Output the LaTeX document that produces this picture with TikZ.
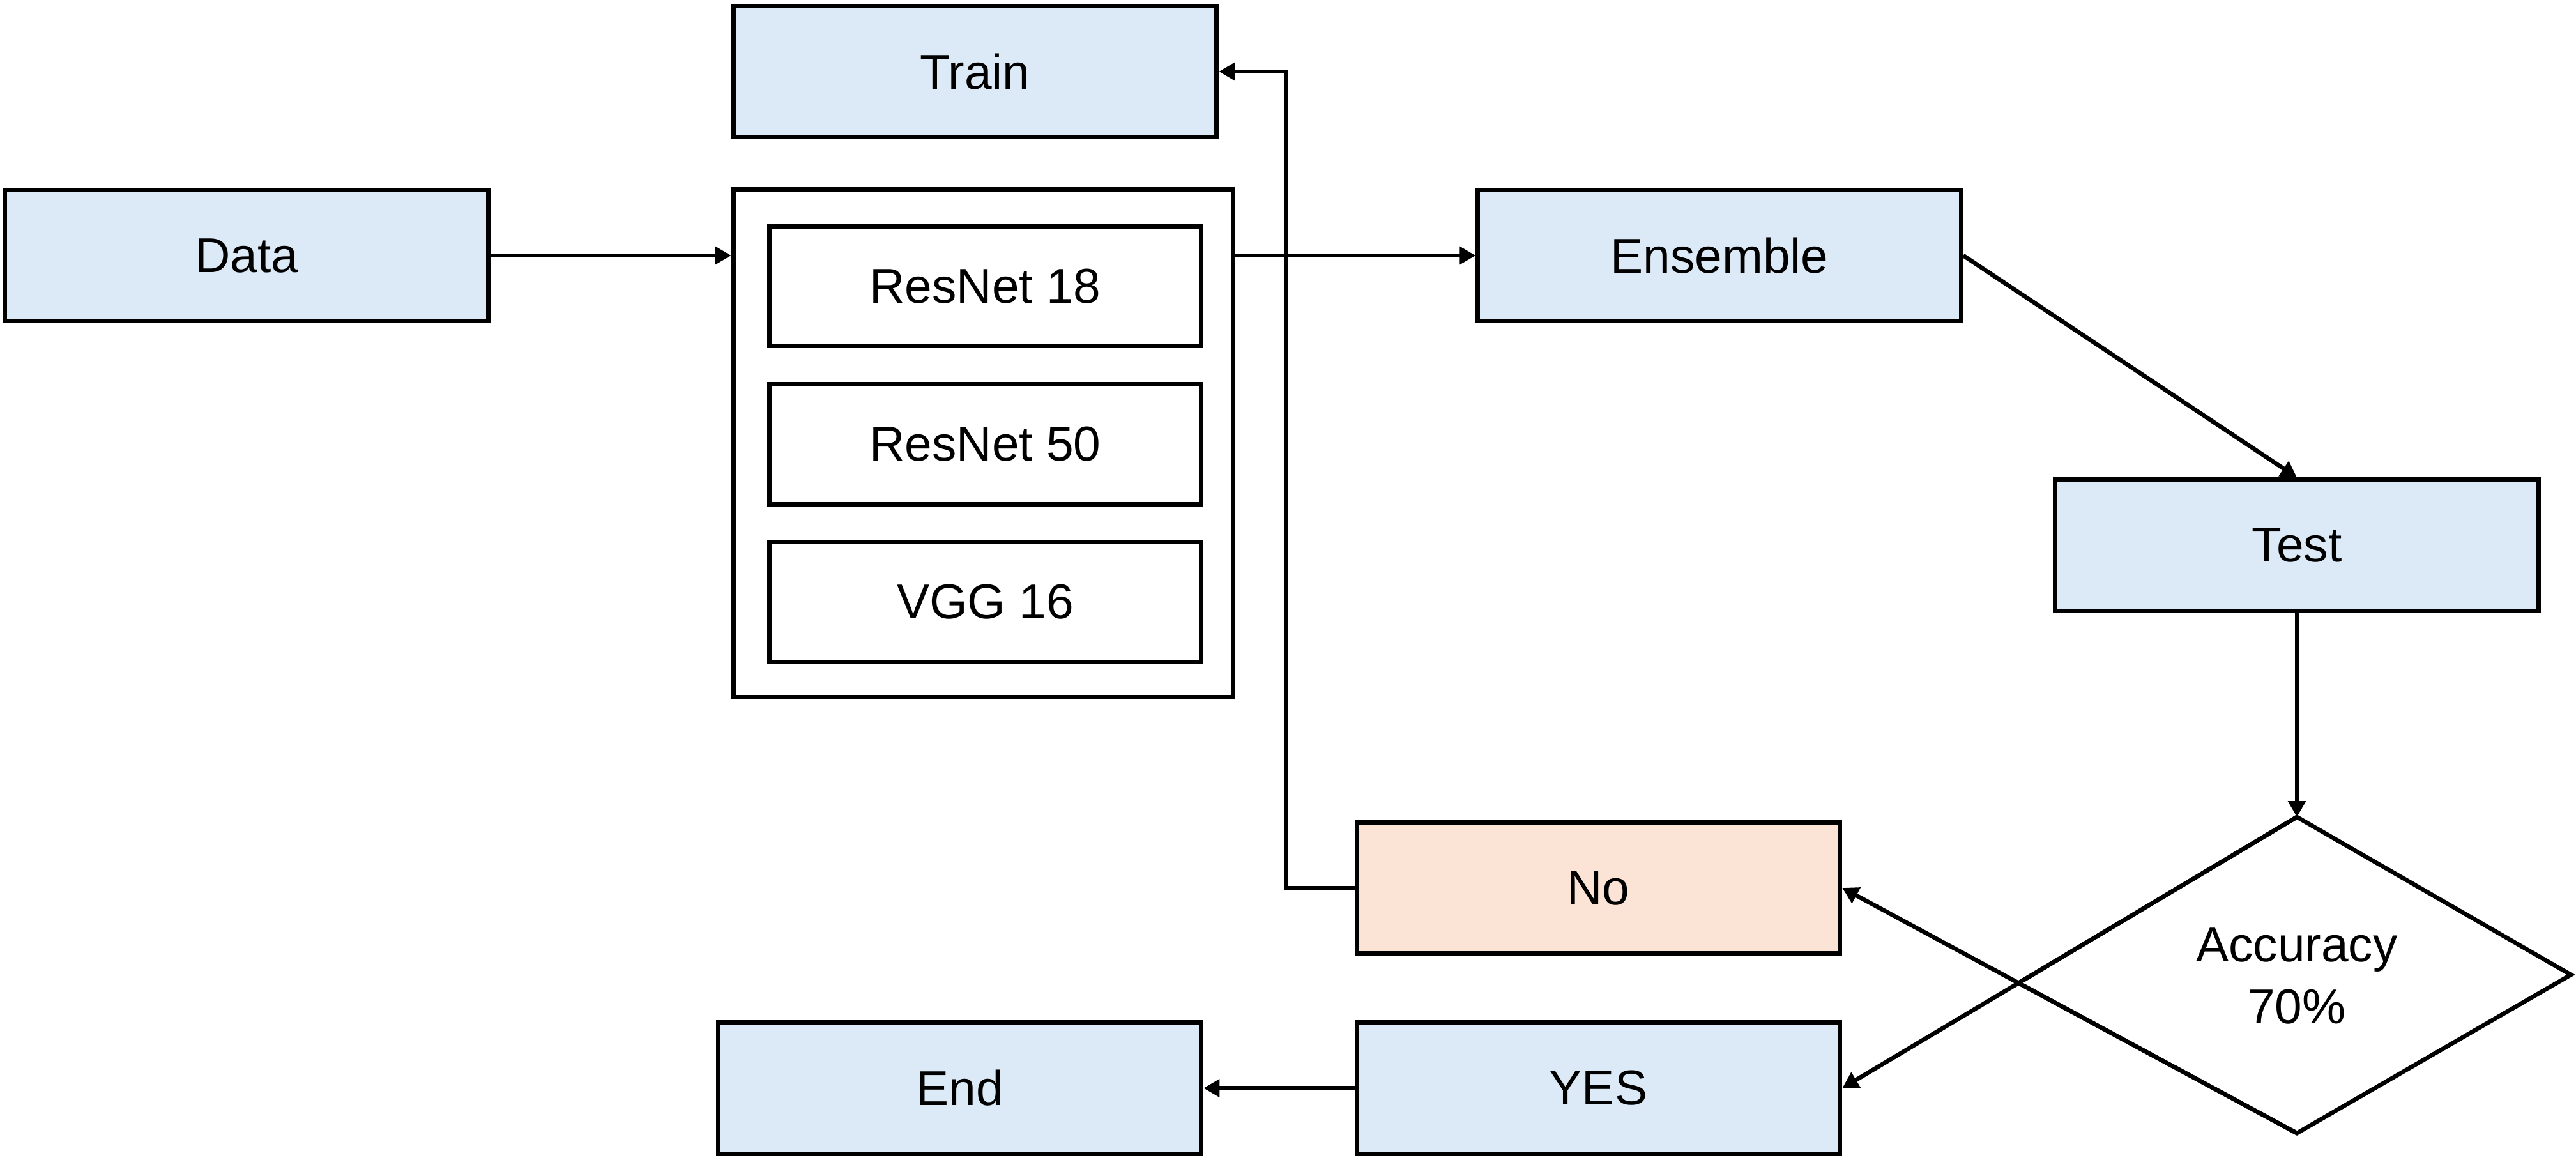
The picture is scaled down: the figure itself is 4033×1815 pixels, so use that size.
\documentclass[tikz,border=0pt]{standalone}
\usepackage{fontspec}
\setmainfont{Liberation Sans}
\usetikzlibrary{arrows.meta}
\definecolor{boxblue}{RGB}{220,233,246}
\definecolor{boxpeach}{RGB}{251,227,214}
\begin{document}
\begin{tikzpicture}[x=0.01cm,y=-0.01cm,
  every node/.style={font=\fontsize{21.8pt}{27.8pt}\selectfont},
  bluebox/.style={draw=black,line width=2pt,fill=boxblue,inner sep=0pt,minimum width=7.56cm,minimum height=2.05cm},
  peachbox/.style={bluebox,fill=boxpeach},
  modelbox/.style={draw=black,line width=2pt,fill=white,inner sep=0pt,minimum width=6.76cm,minimum height=1.87cm},
  holder/.style={draw=black,line width=2pt,fill=white,inner sep=0pt,minimum width=7.82cm,minimum height=7.95cm},
  decisionline/.style={draw=black,line width=1.9pt,fill=white,line join=miter},
  conn/.style={line width=1.9pt,-{Triangle[length=0.25cm,width=0.27cm]}}]
\useasboundingbox (0,0) rectangle (4033,1815);
\node[bluebox] (train) at (1526.5,112) {Train};
\node[bluebox] (data) at (386,400) {Data};
\node[holder] (models) at (1539.5,694) {};
\node[modelbox] (r18) at (1542.5,448) {ResNet 18};
\node[modelbox] (r50) at (1542.5,695.5) {ResNet 50};
\node[modelbox] (vgg) at (1542.5,942.5) {VGG 16};
\node[bluebox] (ens) at (2692,400) {Ensemble};
\node[bluebox] (test) at (3596,853.5) {Test};
\node[peachbox] (no) at (2502.5,1390) {No};
\node[bluebox] (yes) at (2502.5,1703.5) {YES};
\node[bluebox] (end) at (1502.5,1703.5) {End};
% decision diamond
\coordinate (dtop) at (3596,1279);
\coordinate (dbot) at (3596,1774);
\coordinate (dright) at (4025,1526);
\coordinate (dleft) at (intersection of dtop--yes.east and dbot--no.east);
\draw[decisionline] (dtop) -- (dright) -- (dbot) -- (dleft) -- cycle;
\node[align=center] (acc) at (3596,1528) {Accuracy\\70\%};
\draw[conn] (data.east) -- (data.east -| models.west);
\draw[conn] (ens.west -| models.east) -- (ens.west);
\draw[conn] (ens.east) -- (test.north);
\draw[conn] (test.south) -- (dtop);
\draw[conn] (dtop) -- (yes.east);
\draw[conn] (dbot) -- (no.east);
\coordinate (fb) at (2014,1390);
\draw[conn] (no.west) -- (fb) |- (train.east);
\draw[conn] (yes.west) -- (end.east);
\end{tikzpicture}
\end{document}
